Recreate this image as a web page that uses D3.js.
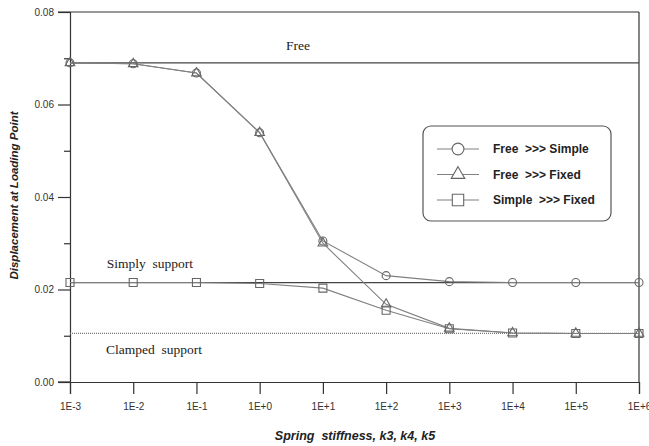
<!DOCTYPE html>
<html>
<head>
<meta charset="utf-8">
<script src="https://cdn.jsdelivr.net/npm/d3@7"></script>
<style>
  body { margin: 0; background: #fff; }
  text { font-family: Arial, "Liberation Sans", sans-serif; white-space: pre; }
</style>
</head>
<body>
<div id="chart"></div>
<script>
// stiffness levels (log scale) and displacement at loading point
var stiffness = [1e-3, 1e-2, 1e-1, 1e0, 1e1, 1e2, 1e3, 1e4, 1e5, 1e6];
var xTickLabels = ["1E-3", "1E-2", "1E-1", "1E+0", "1E+1", "1E+2", "1E+3", "1E+4", "1E+5", "1E+6"];
var freeToSimple = [0.0690, 0.0688, 0.0668, 0.0539, 0.0305, 0.0230, 0.0217, 0.0215, 0.0215, 0.0215];
var freeToFixed = [0.0690, 0.0688, 0.0668, 0.0539, 0.0300, 0.0168, 0.0116, 0.0106, 0.0105, 0.0105];
var simpleToFixed = [0.0215, 0.0215, 0.0215, 0.0213, 0.0203, 0.0155, 0.0115, 0.0106, 0.0105, 0.0105];
var seriesNames = ["Free  >>> Simple", "Free  >>> Fixed", "Simple  >>> Fixed"];
var refLevels = [0.069, 0.0215, 0.0105];
var refLabels = ["Free", "Simply  support", "Clamped  support"];

(function () {
    var margin = { top: 12, right: 10, bottom: 64, left: 70 },
        width = 649,
        height = 446;

    var svg = d3.select('#chart')
                .append('svg')
                .attr('width', width)
                .attr('height', height)
                .append('g')
                .attr("transform", "translate(" + margin.left + ',' + margin.top + ')');

    width = width - margin.left - margin.right;
    height = height - margin.top - margin.bottom;

    var xScale = d3.scaleLog().domain([1e-3, 1e6]).range([0, width]);
    var yScale = d3.scaleLinear().domain([0, 0.08]).range([height, 0]);

    var axisColor = "#333";
    var dataColor = "#808080";

    // frame: top and right edges
    svg.append("line").attr("x1", -12).attr("x2", width).attr("y1", 0).attr("y2", 0)
        .attr("stroke", axisColor).attr("stroke-width", 1.2);
    svg.append("line").attr("x1", width).attr("x2", width).attr("y1", 0).attr("y2", height)
        .attr("stroke", axisColor).attr("stroke-width", 1.2);

    // y axis: major ticks with labels, minor ticks in between
    svg.append("g")
        .call(d3.axisLeft(yScale).tickValues([0, 0.02, 0.04, 0.06, 0.08])
              .tickFormat(d3.format(".2f")).tickSize(12).tickPadding(4));
    svg.append("g")
        .call(d3.axisLeft(yScale).tickValues([0.01, 0.03, 0.05, 0.07])
              .tickFormat("").tickSize(6))
        .select(".domain").remove();

    // x axis
    svg.append("g")
        .attr("transform", "translate(0," + height + ")")
        .call(d3.axisBottom(xScale).tickValues(stiffness)
              .tickFormat(function (d, i) { return xTickLabels[i]; })
              .tickSize(12).tickPadding(9));
    svg.append("line").attr("x1", -12).attr("x2", 0).attr("y1", height).attr("y2", height)
        .attr("stroke", axisColor).attr("stroke-width", 1.2);

    svg.selectAll(".domain").attr("stroke", axisColor).attr("stroke-width", 1.2);
    svg.selectAll(".tick line").attr("stroke", axisColor).attr("stroke-width", 1.2);
    svg.selectAll(".tick text").attr("fill", "#333").style("font-size", "10px");

    // reference levels
    svg.selectAll(".ref")
        .data(refLevels)
        .enter()
        .append("line")
        .attr("class", "ref")
        .attr("x1", 0).attr("x2", width)
        .attr("y1", function (d) { return yScale(d); })
        .attr("y2", function (d) { return yScale(d); })
        .attr("stroke", function (d, i) { return i === 2 ? "#777" : "#444"; })
        .attr("stroke-width", function (d, i) { return i === 2 ? 1.3 : 1.2; })
        .attr("stroke-dasharray", function (d, i) { return i === 2 ? "1,1" : null; });

    var refPos = [[228, -13], [80, -15], [84, 21]];
    svg.selectAll(".refLabel")
        .data(refLabels)
        .enter()
        .append("text")
        .attr("x", function (d, i) { return xScale(stiffness[0]) + refPos[i][0]; })
        .attr("y", function (d, i) { return yScale(refLevels[i]) + refPos[i][1]; })
        .attr("text-anchor", "middle")
        .style("font-family", "'Liberation Serif', 'Times New Roman', serif")
        .style("font-size", "13.5px")
        .attr("fill", "#222")
        .text(function (d) { return d; });

    // data series
    var series = [freeToSimple, freeToFixed, simpleToFixed];
    var shapes = [d3.symbolCircle, d3.symbolTriangle, d3.symbolSquare];
    var sizes = [50, 40, 64];

    var line = d3.line()
        .x(function (d, i) { return xScale(stiffness[i]); })
        .y(function (d) { return yScale(d); });

    series.forEach(function (values, s) {
        svg.append("path")
            .datum(values)
            .attr("d", line)
            .attr("fill", "none")
            .attr("stroke", dataColor)
            .attr("stroke-width", 1.1);

        svg.selectAll(".pt" + s)
            .data(values)
            .enter()
            .append("path")
            .attr("class", "pt" + s)
            .attr("d", d3.symbol().type(shapes[s]).size(sizes[s]))
            .attr("transform", function (d, i) {
                return "translate(" + xScale(stiffness[i]) + "," + yScale(d) + ")";
            })
            .attr("fill", "none")
            .attr("stroke", "#666")
            .attr("stroke-width", 1.1);
    });

    // legend
    var legend = svg.append("g").attr("transform", "translate(353,114)");
    legend.append("rect")
        .attr("width", 188).attr("height", 95)
        .attr("rx", 8).attr("ry", 8)
        .attr("fill", "#fff")
        .attr("stroke", "#555")
        .attr("stroke-width", 1.2);

    var rows = legend.selectAll(".row")
        .data(seriesNames)
        .enter()
        .append("g")
        .attr("transform", function (d, i) { return "translate(0," + (23 + i * 25.5) + ")"; });

    rows.append("line")
        .attr("x1", 14).attr("x2", 56)
        .attr("stroke", dataColor).attr("stroke-width", 1.1);
    rows.append("path")
        .attr("d", function (d, i) { return d3.symbol().type(shapes[i]).size([110, 80, 130][i])(); })
        .attr("transform", "translate(35,0)")
        .attr("fill", "#fff")
        .attr("stroke", "#666")
        .attr("stroke-width", 1.1);
    rows.append("text")
        .attr("x", 70).attr("dy", "0.35em")
        .style("font-size", "12px")
        .style("font-weight", "bold")
        .attr("fill", "#222")
        .text(function (d) { return d; });

    // axis titles
    svg.append("text")
        .attr("x", 285).attr("y", height + 58)
        .attr("text-anchor", "middle")
        .style("font-size", "12.5px")
        .style("font-weight", "bold")
        .style("font-style", "italic")
        .attr("fill", "#222")
        .text("Spring  stiffness, k3, k4, k5");

    svg.append("text")
        .attr("transform", "translate(-52," + (height / 2 - 1.5) + ") rotate(-90)")
        .attr("text-anchor", "middle")
        .style("font-size", "11.5px")
        .style("font-weight", "bold")
        .style("font-style", "italic")
        .attr("fill", "#222")
        .text("Displacement at Loading Point");
})();
</script>
</body>
</html>
